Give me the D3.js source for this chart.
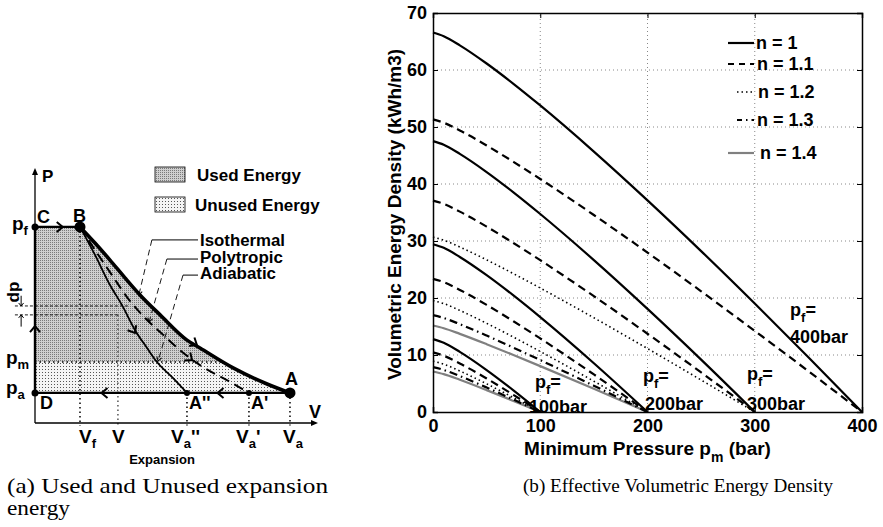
<!DOCTYPE html>
<html>
<head>
<meta charset="utf-8">
<script src="https://cdn.jsdelivr.net/npm/d3@7"></script>
<style>
  html, body { margin: 0; padding: 0; background: #fff; }
  svg { display: block; }
  .sans { font-family: "Liberation Sans", Arial, Helvetica, sans-serif; font-weight: bold; }
  .serif { font-family: "Liberation Serif", "Times New Roman", serif; }
</style>
</head>
<body>
<svg id="fig" width="883" height="527"></svg>
<script>
// ---------------- Right panel data (b) ----------------
const xTicks = [0, 100, 200, 300, 400];
const yTicks = [0, 10, 20, 30, 40, 50, 60, 70];
const nLabels = ["n = 1", "n = 1.1", "n = 1.2", "n = 1.3", "n = 1.4"];
const pfLabels = ["100bar", "200bar", "300bar", "400bar"];

const pm100 = [0, 10, 25, 50, 75, 100];
const pm200 = [0, 10, 25, 50, 75, 100, 150, 200];
const pm300 = [0, 10, 25, 50, 75, 100, 150, 200, 250, 300];
const pm400 = [0, 10, 25, 50, 75, 100, 150, 200, 250, 300, 350, 400];

const e400_n10 = [66.57, 65.93, 64.33, 61.14, 57.58, 53.78, 45.69, 37.13, 28.23, 19.04, 9.62, 0];
const e400_n11 = [51.33, 50.75, 49.39, 46.76, 43.89, 40.88, 34.56, 27.97, 21.18, 14.24, 7.17, 0];
const e300_n10 = [47.53, 46.89, 45.29, 42.10, 38.54, 34.74, 26.65, 18.09, 9.19, 0];
const e300_n11 = [37.09, 36.51, 35.15, 32.52, 29.65, 26.64, 20.32, 13.73, 6.94, 0];
const e300_n12 = [30.68, 30.15, 28.95, 26.69, 24.27, 21.75, 16.53, 11.13, 5.61, 0];
const e200_n10 = [29.44, 28.80, 27.20, 24.01, 20.45, 16.65, 8.56, 0];
const e200_n11 = [23.36, 22.78, 21.42, 18.79, 15.92, 12.91, 6.59, 0];
const e200_n12 = [19.55, 19.02, 17.82, 15.56, 13.14, 10.62, 5.40, 0];
const e200_n13 = [16.99, 16.49, 15.41, 13.41, 11.29, 9.11, 4.61, 0];
const e200_n14 = [15.17, 14.70, 13.71, 11.90, 10.00, 8.05, 4.07, 0];
const e100_n10 = [12.79, 12.15, 10.55, 7.36, 3.80, 0];
const e100_n11 = [10.45, 9.87, 8.51, 5.88, 3.01, 0];
const e100_n12 = [8.93, 8.40, 7.20, 4.94, 2.52, 0];
const e100_n13 = [7.88, 7.38, 6.30, 4.30, 2.18, 0];
const e100_n14 = [7.11, 6.64, 5.65, 3.84, 1.94, 0];

// ---------------- Left panel data (a), schematic units ----------------
const pf = 76.9, pm = 23.9, pa = 11.8;           // pressure levels
const pdpHi = 45.9, pdpLo = 42.4;                  // dp band
const vF = 15.9, vV = 29.3, vA2 = 53.7, vA1 = 75.6, vA = 90.1; // volumes
const isoV  = [15.9, 21.2, 26.5, 31.8, 37.1, 44.2, 53.7, 58.3, 70.0, 82.0, 90.1];
const isoP  = [76.9, 70.6, 63.9, 56.9, 50.2, 42.4, 32.5, 29.4, 21.6, 15.3, 11.8];
const polV  = [15.9, 21.9, 27.2, 32.5, 38.9, 44.2, 51.2, 58.3, 68.9, 75.6];
const polP  = [76.9, 66.7, 58.0, 49.4, 41.2, 35.7, 28.6, 22.7, 16.1, 11.8];
const adiV  = [15.9, 21.2, 26.5, 30.7, 35.3, 39.6, 43.1, 48.8, 53.7];
const adiP  = [76.9, 65.9, 54.1, 46.3, 36.5, 29.4, 23.9, 17.6, 11.8];

const svg = d3.select("#fig");
const FONT = '"Liberation Sans", Arial, Helvetica, sans-serif';

// =============== RIGHT PANEL ===============
const x = d3.scaleLinear().domain([0, 400]).range([433, 862]);
const y = d3.scaleLinear().domain([0, 70]).range([412, 13]);
const R = svg.append("g");

// grid
R.append("g").selectAll("line").data(xTicks.slice(1, -1)).join("line")
  .attr("x1", d => x(d)).attr("x2", d => x(d)).attr("y1", y(0)).attr("y2", y(70))
  .attr("stroke", "#888").attr("stroke-width", 1).attr("stroke-dasharray", "1,3");
R.append("g").selectAll("line").data(yTicks.slice(1, -1)).join("line")
  .attr("y1", d => y(d)).attr("y2", d => y(d)).attr("x1", x(0)).attr("x2", x(400))
  .attr("stroke", "#888").attr("stroke-width", 1).attr("stroke-dasharray", "1,3");

// curves
const styles = {
  "1":   {stroke: "#000", dash: null, w: 2.2},
  "1.1": {stroke: "#000", dash: "8,5", w: 2.2},
  "1.2": {stroke: "#000", dash: "1.5,3", w: 1.6},
  "1.3": {stroke: "#000", dash: "8,4,1.5,4", w: 2.2},
  "1.4": {stroke: "#808080", dash: null, w: 2.2}
};
const series = [
  {n: "1.4", pm: pm200, e: e200_n14}, {n: "1.4", pm: pm100, e: e100_n14},
  {n: "1.3", pm: pm200, e: e200_n13}, {n: "1.3", pm: pm100, e: e100_n13},
  {n: "1.2", pm: pm300, e: e300_n12}, {n: "1.2", pm: pm200, e: e200_n12}, {n: "1.2", pm: pm100, e: e100_n12},
  {n: "1.1", pm: pm400, e: e400_n11}, {n: "1.1", pm: pm300, e: e300_n11}, {n: "1.1", pm: pm200, e: e200_n11}, {n: "1.1", pm: pm100, e: e100_n11},
  {n: "1",   pm: pm400, e: e400_n10}, {n: "1",   pm: pm300, e: e300_n10}, {n: "1",   pm: pm200, e: e200_n10}, {n: "1",   pm: pm100, e: e100_n10}
];
const line = d3.line().x(d => x(d[0])).y(d => y(d[1])).curve(d3.curveMonotoneX);
R.append("g").selectAll("path").data(series).join("path")
  .attr("d", s => line(s.pm.map((p, i) => [p, s.e[i]])))
  .attr("fill", "none")
  .attr("stroke", s => styles[s.n].stroke)
  .attr("stroke-width", s => styles[s.n].w)
  .attr("stroke-dasharray", s => styles[s.n].dash);

// axes (box with inward ticks)
const axL = d3.axisLeft(y).tickValues(yTicks).tickSize(-5).tickPadding(6).tickFormat(d3.format("d"));
const axB = d3.axisBottom(x).tickValues(xTicks).tickSize(-5).tickPadding(7).tickFormat(d3.format("d"));
const axR = d3.axisRight(y).tickValues(yTicks).tickSize(-5).tickFormat("");
const axT = d3.axisTop(x).tickValues(xTicks).tickSize(-5).tickFormat("");
function styleAxis(g) {
  g.select(".domain").attr("stroke", "#000").attr("stroke-width", 1.5);
  g.selectAll(".tick line").attr("stroke", "#000");
  g.selectAll(".tick text").attr("font-family", FONT).attr("font-weight", "bold")
    .attr("font-size", 18).attr("fill", "#000");
}
R.append("g").attr("transform", `translate(${x(0)},0)`).call(axL).call(styleAxis);
R.append("g").attr("transform", `translate(0,${y(0)})`).call(axB).call(styleAxis);
R.append("g").attr("transform", `translate(${x(400)},0)`).call(axR).call(styleAxis);
R.append("g").attr("transform", `translate(0,${y(70)})`).call(axT).call(styleAxis);

// axis labels
R.append("text").attr("class", "sans").attr("font-size", 19)
  .attr("transform", `translate(401,${y(35) + 2}) rotate(-90)`).attr("text-anchor", "middle")
  .text("Volumetric Energy Density (kWh/m3)");
const xl = R.append("text").attr("class", "sans").attr("font-size", 19)
  .attr("x", x(200)).attr("y", 455).attr("text-anchor", "middle");
xl.append("tspan").text("Minimum Pressure p");
xl.append("tspan").attr("font-size", 14).attr("dy", 7).text("m");
xl.append("tspan").attr("dy", -7).text(" (bar)");

// pf annotations (positions in data units)
const pfAnn = [
  {px: 95.1, py: 4.2,  bx: 89.5, by: -0.15, lab: pfLabels[0]},
  {px: 195.8, py: 5.26, bx: 197.6, by: 0.35, lab: pfLabels[1]},
  {px: 292.8, py: 5.6,  bx: 292.8, by: 0.35, lab: pfLabels[2]},
  {px: 332.9, py: 16.8, bx: 332.9, by: 12.1, lab: pfLabels[3]}
];
pfAnn.forEach(a => {
  const t = R.append("text").attr("class", "sans").attr("font-size", 18)
    .attr("x", x(a.px)).attr("y", y(a.py));
  t.append("tspan").text("p");
  t.append("tspan").attr("font-size", 13).attr("dy", 6).text("f");
  t.append("tspan").attr("dy", -6).text("=");
  R.append("text").attr("class", "sans").attr("font-size", 18)
    .attr("x", x(a.bx)).attr("y", y(a.by)).text(a.lab);
});

// legend
const legN = ["1", "1.1", "1.2", "1.3", "1.4"];
const legY = [43, 64, 92, 120, 153];
const legX1 = [728, 728, 737, 737, 728];
const legTX = [756, 757, 758, 757, 760];
legN.forEach((n, i) => {
  R.append("line").attr("x1", legX1[i]).attr("x2", 754).attr("y1", legY[i]).attr("y2", legY[i])
    .attr("stroke", styles[n].stroke).attr("stroke-width", styles[n].w)
    .attr("stroke-dasharray", n === "1.1" ? "6,5" : (n === "1.3" ? "5,4,1.5,4" : styles[n].dash));
  R.append("text").attr("class", "sans").attr("font-size", 18)
    .attr("x", legTX[i]).attr("y", legY[i] + 6).text(nLabels[i]);
});

// caption b
svg.append("text").attr("class", "serif").attr("font-size", 19)
  .attr("x", 523).attr("y", 492).attr("textLength", 310).attr("lengthAdjust", "spacingAndGlyphs")
  .text("(b) Effective Volumetric Energy Density");

// =============== LEFT PANEL ===============
const xs = d3.scaleLinear().domain([0, 100]).range([35, 318]);
const ys = d3.scaleLinear().domain([0, 100]).range([423, 168]);
const L = svg.append("g");
const defs = svg.append("defs");
const pu = defs.append("pattern").attr("id", "usedPat").attr("width", 2).attr("height", 2).attr("patternUnits", "userSpaceOnUse");
pu.append("rect").attr("width", 2).attr("height", 2).attr("fill", "#cfcfcf");
pu.append("rect").attr("width", 1).attr("height", 1).attr("fill", "#7a7a7a");
const pn = defs.append("pattern").attr("id", "unusedPat").attr("width", 3).attr("height", 3).attr("patternUnits", "userSpaceOnUse");
pn.append("rect").attr("width", 3).attr("height", 3).attr("fill", "#f4f4f4");
pn.append("rect").attr("width", 1).attr("height", 1).attr("fill", "#555");
defs.append("clipPath").attr("id", "clipUsed").append("rect")
  .attr("x", xs(0)).attr("y", ys(pf) - 1).attr("width", xs(100) - xs(0)).attr("height", ys(pm) - ys(pf) + 1);
defs.append("clipPath").attr("id", "clipUnused").append("rect")
  .attr("x", xs(0)).attr("y", ys(pm)).attr("width", xs(100) - xs(0)).attr("height", ys(pa) - ys(pm));

const isoPts = isoV.map((v, i) => [v, isoP[i]]);
const polPts = polV.map((v, i) => [v, polP[i]]);
const adiPts = adiV.map((v, i) => [v, adiP[i]]);
const regionPts = [[0, pf]].concat(isoPts).concat([[0, pa]]);
const lin = d3.line().x(d => xs(d[0])).y(d => ys(d[1]));
const smooth = d3.line().x(d => xs(d[0])).y(d => ys(d[1])).curve(d3.curveMonotoneX);
const regionPath = lin(regionPts) + "Z";
L.append("path").attr("d", regionPath).attr("fill", "url(#usedPat)").attr("clip-path", "url(#clipUsed)");
L.append("path").attr("d", regionPath).attr("fill", "url(#unusedPat)").attr("clip-path", "url(#clipUnused)");

// dotted guides
const dotted = (v1, p1, v2, p2, col) => L.append("line")
  .attr("x1", xs(v1)).attr("y1", ys(p1)).attr("x2", xs(v2)).attr("y2", ys(p2))
  .attr("stroke", col || "#000").attr("stroke-width", 1.5).attr("stroke-dasharray", "1.5,3");
dotted(vF, pf, vF, -1);
dotted(vV, pdpLo, vV, -1, "#555");
dotted(vA2, pa, vA2, -1);
dotted(vA1, pa, vA1, -1);
dotted(vA, pa, vA, -1);
dotted(0, pm, 66.5, pm);
// dp lines
const dashed = (v1, p1, v2, p2) => L.append("line")
  .attr("x1", xs(v1)).attr("y1", ys(p1)).attr("x2", xs(v2)).attr("y2", ys(p2))
  .attr("stroke", "#000").attr("stroke-width", 0.9).attr("stroke-dasharray", "3,2");
dashed(-7.1, pdpHi, 33.6, pdpHi);
dashed(-7.1, pdpLo, 29.3, pdpLo);

// axes
L.append("line").attr("x1", xs(0)).attr("y1", ys(0)).attr("x2", xs(0)).attr("y2", ys(100) + 4)
  .attr("stroke", "#000").attr("stroke-width", 1.3);
L.append("path").attr("d", `M${xs(0) - 3},${ys(100) + 7} L${xs(0)},${ys(100)} L${xs(0) + 3},${ys(100) + 7}Z`).attr("fill", "#000");
L.append("line").attr("x1", xs(0)).attr("y1", ys(0)).attr("x2", xs(100) - 4).attr("y2", ys(0))
  .attr("stroke", "#000").attr("stroke-width", 1.3);
L.append("path").attr("d", `M${xs(100) - 7},${ys(0) - 3} L${xs(100)},${ys(0)} L${xs(100) - 7},${ys(0) + 3}Z`).attr("fill", "#000");

// cycle lines
const solid = (pts, w) => L.append("path").attr("d", lin(pts)).attr("fill", "none").attr("stroke", "#000").attr("stroke-width", w);
solid([[0, pa], [0, pf], [vF, pf]], 2.4);
solid([[0, pa], [vA, pa]], 2.4);
L.append("path").attr("d", smooth(adiPts)).attr("fill", "none").attr("stroke", "#000").attr("stroke-width", 1.8);
L.append("path").attr("d", smooth(polPts)).attr("fill", "none").attr("stroke", "#000").attr("stroke-width", 2).attr("stroke-dasharray", "10,6");
L.append("path").attr("d", smooth(isoPts)).attr("fill", "none").attr("stroke", "#000").attr("stroke-width", 3.6);

// chevron arrows
const arrows = [
  {v: 9.8, p: pf, a: 0}, {v: 0, p: 38, a: -90},
  {v: 23.5, p: pa, a: 180}, {v: 64.5, p: pa, a: 180},
  {v: 57.2, p: 30.6, a: 32}, {v: 55.5, p: 24.7, a: 37}, {v: 35.3, p: 35.3, a: 60}
];
arrows.forEach(a => {
  L.append("path").attr("d", "M-6,-5 L0,0 L-6,5")
    .attr("transform", `translate(${xs(a.v)},${ys(a.p)}) rotate(${a.a})`)
    .attr("fill", "none").attr("stroke", "#000").attr("stroke-width", 2);
});
// dp arrows
[[pdpHi + 4, pdpHi, 90], [pdpLo - 4.6, pdpLo, -90]].forEach(d => {
  L.append("line").attr("x1", xs(-4.9)).attr("x2", xs(-4.9)).attr("y1", ys(d[0])).attr("y2", ys(d[1]))
    .attr("stroke", "#000").attr("stroke-width", 1);
  L.append("path").attr("d", "M-3,-2.5 L0,0 L-3,2.5")
    .attr("transform", `translate(${xs(-4.9)},${ys(d[1])}) rotate(${d[2]})`)
    .attr("fill", "none").attr("stroke", "#000").attr("stroke-width", 1);
});

// points
[[0, pf, 3.5], [vF, pf, 5.5], [0, pa, 3.5], [vA2, pa, 3], [vA1, pa, 3], [vA, pa, 5.5]].forEach(d => {
  L.append("circle").attr("cx", xs(d[0])).attr("cy", ys(d[1])).attr("r", d[2]).attr("fill", "#000");
});

// leader lines
const leaders = [
  {name: "Isothermal", hv: 41.3, hp: 71.8, ev: 36.7, ep: 50.2, ty: 246},
  {name: "Polytropic", hv: 46.6, hp: 64.3, ev: 40.3, ep: 39.6, ty: 263},
  {name: "Adiabatic",  hv: 52.3, hp: 58.0, ev: 43.5, ep: 24.3, ty: 279}
];
leaders.forEach(l => {
  L.append("line").attr("x1", xs(l.hv)).attr("x2", xs(57.6)).attr("y1", ys(l.hp)).attr("y2", ys(l.hp))
    .attr("stroke", "#000").attr("stroke-width", 1);
  L.append("line").attr("x1", xs(l.hv)).attr("y1", ys(l.hp)).attr("x2", xs(l.ev)).attr("y2", ys(l.ep))
    .attr("stroke", "#000").attr("stroke-width", 0.9).attr("stroke-dasharray", "6,4");
  const ang = Math.atan2(ys(l.ep) - ys(l.hp), xs(l.ev) - xs(l.hv)) * 180 / Math.PI;
  L.append("path").attr("d", "M-4,-2.5 L0,0 L-4,2.5")
    .attr("transform", `translate(${xs(l.ev)},${ys(l.ep)}) rotate(${ang})`)
    .attr("fill", "none").attr("stroke", "#000").attr("stroke-width", 1);
  L.append("text").attr("class", "sans").attr("font-size", 16).attr("x", 200).attr("y", l.ty)
    .attr("textLength", l.name === "Isothermal" ? 85 : (l.name === "Polytropic" ? 83 : 76))
    .attr("lengthAdjust", "spacingAndGlyphs").text(l.name);
});

// legend boxes
L.append("rect").attr("x", 155).attr("y", 167).attr("width", 30).attr("height", 15)
  .attr("fill", "url(#usedPat)").attr("stroke", "#000").attr("stroke-width", 0.8);
L.append("rect").attr("x", 155).attr("y", 197).attr("width", 30).attr("height", 15)
  .attr("fill", "url(#unusedPat)").attr("stroke", "#000").attr("stroke-width", 0.8);
L.append("text").attr("class", "sans").attr("font-size", 17).attr("x", 197).attr("y", 181).text("Used Energy");
L.append("text").attr("class", "sans").attr("font-size", 17).attr("x", 195).attr("y", 211).text("Unused Energy");

// labels
function lab(xp, yp, main, sub, tail, size) {
  const t = L.append("text").attr("class", "sans").attr("font-size", size || 19).attr("x", xp).attr("y", yp);
  t.append("tspan").text(main);
  if (sub) t.append("tspan").attr("font-size", 13).attr("dy", 5).text(sub);
  if (tail) t.append("tspan").attr("dy", sub ? -5 : 0).text(tail);
}
lab(42, 182, "P", null, null, 17);
lab(37, 223, "C", null, null, 18);
lab(73, 222, "B", null, null, 18);
lab(12, 230, "p", "f");
lab(6, 364, "p", "m");
lab(6, 394, "p", "a");
lab(40, 409, "D", null, null, 18);
lab(189, 409, "A''", null, null, 18);
lab(251, 409, "A'", null, null, 18);
lab(285, 385, "A", null, null, 18);
lab(309, 418, "V", null, null, 18);
lab(79, 443, "V", "f");
lab(112, 443, "V");
lab(171, 443, "V", "a", "''");
lab(236, 443, "V", "a", "'");
lab(283, 443, "V", "a");
L.append("text").attr("class", "sans").attr("font-size", 13).attr("x", 162).attr("y", 464)
  .attr("text-anchor", "middle").text("Expansion");
L.append("text").attr("class", "sans").attr("font-size", 17)
  .attr("transform", "translate(19,292) rotate(-90)").attr("text-anchor", "middle").text("dp");

// caption a
svg.append("text").attr("class", "serif").attr("font-size", 21).attr("x", 7).attr("y", 493)
  .attr("textLength", 321).attr("lengthAdjust", "spacingAndGlyphs")
  .text("(a) Used and Unused expansion");
svg.append("text").attr("class", "serif").attr("font-size", 21).attr("x", 7).attr("y", 515)
  .attr("textLength", 63).attr("lengthAdjust", "spacingAndGlyphs")
  .text("energy");
</script>
</body>
</html>
